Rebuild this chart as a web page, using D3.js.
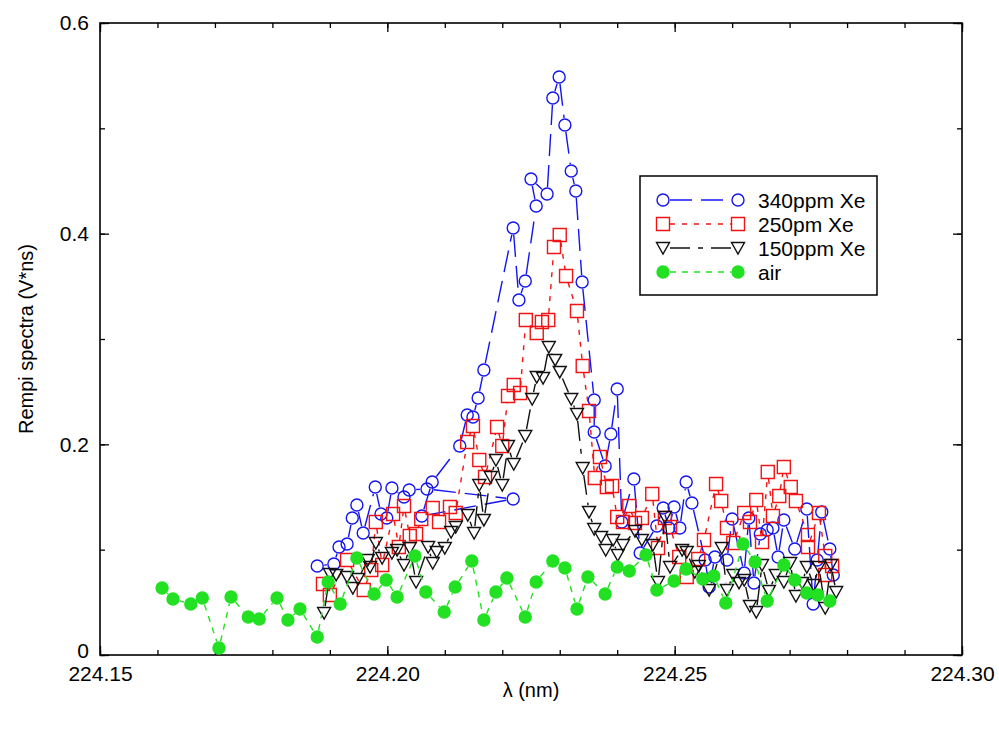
<!DOCTYPE html>
<html>
<head>
<meta charset="utf-8">
<script src="https://cdn.jsdelivr.net/npm/d3@7"></script>
<style>
  body { margin: 0; background: #fff; }
  text { font-family: "Liberation Sans", Arial, sans-serif; }
</style>
</head>
<body>
<svg id="chart" width="999" height="729"></svg>
<script>
// [lambda (nm), Rempi signal (V*ns)] in the order the points were joined
const xe340 = [
  [224.1878,0.0845],[224.1907,0.0864],[224.1916,0.1025],[224.1930,0.1054],[224.1939,0.1301],
  [224.1947,0.1424],[224.1958,0.1158],[224.1979,0.1595],[224.1989,0.1339],[224.1999,0.1301],
  [224.2008,0.1585],[224.2029,0.1500],[224.2038,0.1567],[224.2069,0.1576],[224.2219,0.1481],
  [224.2060,0.1320],[224.2078,0.1642],[224.2126,0.1984],[224.2139,0.2279],[224.2149,0.2260],
  [224.2158,0.2440],[224.2168,0.2706],[224.2219,0.4054],[224.2229,0.3370],[224.2240,0.3551],
  [224.2259,0.4263],[224.2250,0.4519],[224.2278,0.4377],[224.2288,0.5288],[224.2299,0.5488],
  [224.2309,0.5032],[224.2320,0.4595],[224.2328,0.4405],[224.2339,0.3541],[224.2360,0.2421],
  [224.2360,0.2117],[224.2379,0.1794],[224.2389,0.2098],[224.2400,0.2525],[224.2408,0.1263],
  [224.2429,0.1671],[224.2440,0.0968],[224.2469,0.1225],[224.2480,0.1396],[224.2490,0.1206],
  [224.2499,0.1405],[224.2509,0.1206],[224.2520,0.1642],[224.2530,0.1443],[224.2553,0.0902],
  [224.2560,0.0646],[224.2570,0.0930],[224.2591,0.0902],[224.2600,0.1291],[224.2621,0.0779],
  [224.2629,0.1301],[224.2638,0.0684],[224.2649,0.1149],[224.2661,0.1187],[224.2671,0.1206],
  [224.2680,0.0930],[224.2690,0.1282],[224.2709,0.1006],[224.2730,0.1386],[224.2741,0.0484],
  [224.2748,0.0902],[224.2756,0.1358],[224.2770,0.1006],[224.2776,0.0760]
];
const xe250 = [
  [224.1888,0.0674],[224.1900,0.0570],[224.1930,0.0902],[224.1959,0.0617],[224.1972,0.0807],
  [224.1980,0.1263],[224.1991,0.0854],[224.2010,0.1339],[224.2020,0.1025],[224.2029,0.1415],
  [224.2039,0.1130],[224.2050,0.1149],[224.2059,0.1291],[224.2079,0.1396],[224.2090,0.1263],
  [224.2109,0.1405],[224.2119,0.1348],[224.2139,0.2022],[224.2149,0.2174],[224.2160,0.1851],
  [224.2170,0.1690],[224.2191,0.2165],[224.2200,0.1984],[224.2210,0.2459],[224.2220,0.2563],
  [224.2231,0.2487],[224.2241,0.3180],[224.2260,0.3057],[224.2269,0.3161],[224.2280,0.3180],
  [224.2290,0.3874],[224.2300,0.3987],[224.2311,0.3598],[224.2330,0.3266],[224.2340,0.2744],
  [224.2351,0.2317],[224.2361,0.1680],[224.2370,0.1880],[224.2382,0.1595],[224.2391,0.1604],
  [224.2400,0.1310],[224.2410,0.1263],[224.2421,0.1415],[224.2431,0.1253],[224.2443,0.1301],
  [224.2461,0.1529],[224.2471,0.1016],[224.2483,0.1301],[224.2492,0.1215],[224.2508,0.0930],
  [224.2521,0.0741],[224.2541,0.0911],[224.2551,0.1092],[224.2572,0.1623],[224.2581,0.1462],
  [224.2591,0.1206],[224.2602,0.1063],[224.2621,0.1348],[224.2631,0.1263],[224.2642,0.1472],
  [224.2652,0.1073],[224.2662,0.1737],[224.2671,0.1320],[224.2682,0.1510],[224.2690,0.1785],
  [224.2702,0.1595],[224.2711,0.1462],[224.2732,0.1139],[224.2732,0.1025],[224.2751,0.1348],
  [224.2762,0.0940],[224.2762,0.0760],[224.2774,0.0845]
];
const xe150 = [
  [224.1890,0.0399],[224.1900,0.0769],[224.1911,0.0760],[224.1930,0.0741],[224.1940,0.0636],
  [224.1949,0.0722],[224.1966,0.0902],[224.1970,0.0835],[224.1980,0.1063],[224.1991,0.0921],
  [224.2008,0.0968],[224.2017,0.0997],[224.2029,0.0854],[224.2039,0.1016],[224.2050,0.0693],
  [224.2071,0.1025],[224.2079,0.0873],[224.2086,0.0978],[224.2100,0.1016],[224.2111,0.1168],
  [224.2119,0.1215],[224.2140,0.1329],[224.2151,0.1158],[224.2160,0.1614],[224.2168,0.1282],
  [224.2180,0.1690],[224.2189,0.1851],[224.2200,0.1614],[224.2210,0.1984],[224.2220,0.1813],
  [224.2240,0.2079],[224.2252,0.2430],[224.2260,0.2639],[224.2271,0.2630],[224.2281,0.2924],
  [224.2292,0.2801],[224.2300,0.2687],[224.2320,0.2430],[224.2330,0.2288],[224.2340,0.1775],
  [224.2351,0.1358],[224.2360,0.1196],[224.2372,0.1120],[224.2380,0.0997],[224.2393,0.1092],
  [224.2401,0.0949],[224.2410,0.1044],[224.2431,0.1177],[224.2443,0.1092],[224.2462,0.1044],
  [224.2471,0.0693],[224.2483,0.1310],[224.2492,0.0835],[224.2513,0.0997],[224.2521,0.0978],
  [224.2535,0.0788],[224.2542,0.0845],[224.2560,0.0617],[224.2582,0.1016],[224.2591,0.0617],
  [224.2602,0.0760],[224.2612,0.0684],[224.2621,0.0712],[224.2631,0.0465],[224.2642,0.0408],
  [224.2652,0.0854],[224.2664,0.0608],[224.2676,0.0760],[224.2690,0.0693],[224.2701,0.0873],
  [224.2711,0.0560],[224.2722,0.0684],[224.2730,0.0835],[224.2742,0.0665],[224.2751,0.0835],
  [224.2762,0.0446],[224.2772,0.0854],[224.2781,0.0598]
];
const air = [
  [224.1608,0.0636],[224.1627,0.0532],[224.1658,0.0484],[224.1678,0.0541],[224.1707,0.0066],
  [224.1728,0.0551],[224.1758,0.0361],[224.1777,0.0342],[224.1808,0.0541],[224.1827,0.0332],
  [224.1848,0.0437],[224.1878,0.0171],[224.1897,0.0693],[224.1918,0.0484],[224.1947,0.0921],
  [224.1977,0.0579],[224.1998,0.0712],[224.2017,0.0551],[224.2048,0.0940],[224.2067,0.0598],
  [224.2099,0.0408],[224.2118,0.0646],[224.2147,0.0892],[224.2168,0.0332],[224.2189,0.0598],
  [224.2208,0.0731],[224.2240,0.0361],[224.2259,0.0693],[224.2288,0.0892],[224.2309,0.0826],
  [224.2330,0.0437],[224.2349,0.0741],[224.2379,0.0579],[224.2400,0.0835],[224.2421,0.0797],
  [224.2450,0.0949],[224.2469,0.0617],[224.2499,0.0703],[224.2520,0.0816],[224.2549,0.0722],
  [224.2568,0.0750],[224.2589,0.0494],[224.2619,0.1054],[224.2640,0.0883],[224.2661,0.0513],
  [224.2690,0.0854],[224.2709,0.0712],[224.2730,0.0589],[224.2749,0.0570],[224.2770,0.0513]
];

const xMajor = [224.15, 224.20, 224.25, 224.30];
const yMajor = [0, 0.2, 0.4, 0.6];
const legendNames = ["340ppm Xe", "250pm Xe", "150ppm Xe", "air"];

const svg = d3.select("#chart");
const x = d3.scaleLinear().domain([224.15, 224.30]).range([100, 962]);
const y = d3.scaleLinear().domain([0, 0.6]).range([655, 23]);

const series = [
  {data: xe340, color: "#1414f0", dash: "22,9", shape: "circle", fill: "none"},
  {data: xe250, color: "#f01414", dash: "5,7", shape: "square", fill: "none"},
  {data: xe150, color: "#111", dash: "20,8,5,8", shape: "triangle", fill: "none"},
  {data: air, color: "#22e022", dash: "6,6", shape: "circle", fill: "#22e022"}
];

function markerPath(shape) {
  if (shape === "square") return "M-6.5,-6.5H6.5V6.5H-6.5Z";
  if (shape === "triangle") return "M-6.5,-5.5L6.5,-5.5L0,6Z";
  return "M6,0A6,6 0 1,1 -6,0A6,6 0 1,1 6,0Z";
}

// line pieces between points, stopped short of the symbols
function drawLinks(g, pts, s, gap) {
  for (let i = 0; i < pts.length - 1; i++) {
    let [x1, y1] = pts[i], [x2, y2] = pts[i + 1];
    let dx = x2 - x1, dy = y2 - y1;
    let len = Math.sqrt(dx * dx + dy * dy);
    if (len <= 2 * gap) continue;
    let ux = dx / len, uy = dy / len;
    g.append("line")
      .attr("x1", x1 + ux * gap).attr("y1", y1 + uy * gap)
      .attr("x2", x2 - ux * gap).attr("y2", y2 - uy * gap)
      .attr("stroke", s.color).attr("stroke-width", 1.4)
      .attr("stroke-dasharray", s.dash).attr("fill", "none");
  }
}

function drawMarks(g, pts, s) {
  g.selectAll(null).data(pts).join("path")
    .attr("transform", d => `translate(${d[0]},${d[1]})`)
    .attr("d", markerPath(s.shape))
    .attr("fill", s.fill)
    .attr("stroke", s.color)
    .attr("stroke-width", 1.4);
}

// axes, ticks pointing inward
const xMinor = d3.range(0, 16).map(i => 224.15 + i * 0.01);
const yMinor = d3.range(0, 7).map(i => i * 0.1);

svg.append("g").attr("transform", "translate(0,655)")
  .call(d3.axisBottom(x).tickValues(xMinor).tickSize(-5).tickFormat(""));
svg.append("g").attr("transform", "translate(0,655)")
  .call(d3.axisBottom(x).tickValues(xMajor).tickSize(-9).tickPadding(11).tickFormat(d3.format(".2f")));
svg.append("g").attr("transform", "translate(0,23)")
  .call(d3.axisTop(x).tickValues(xMinor).tickSize(-5).tickFormat(""));
svg.append("g").attr("transform", "translate(0,23)")
  .call(d3.axisTop(x).tickValues(xMajor).tickSize(-9).tickFormat(""));
svg.append("g").attr("transform", "translate(100,0)")
  .call(d3.axisLeft(y).tickValues(yMinor).tickSize(-5).tickFormat(""));
const yAxis = svg.append("g").attr("transform", "translate(100,0)")
  .call(d3.axisLeft(y).tickValues(yMajor).tickSize(-9).tickPadding(11).tickFormat(d => d === 0 ? "0" : d3.format(".1f")(d)));
svg.append("g").attr("transform", "translate(962,0)")
  .call(d3.axisRight(y).tickValues(yMinor).tickSize(-5).tickFormat(""));
svg.append("g").attr("transform", "translate(962,0)")
  .call(d3.axisRight(y).tickValues(yMajor).tickSize(-9).tickFormat(""));

svg.selectAll(".domain").remove();
svg.selectAll(".tick line").attr("stroke", "#000").attr("stroke-width", 1.3);
svg.selectAll(".tick text").attr("font-size", 21).attr("fill", "#000")
  .style("font-family", "'Liberation Sans', Arial, sans-serif");
// the "0" sits just above the 224.15 label
yAxis.selectAll(".tick text").filter(d => d === 0).attr("dy", "0.12em");

svg.append("rect")
  .attr("x", 100).attr("y", 23).attr("width", 862).attr("height", 632)
  .attr("fill", "none").attr("stroke", "#000").attr("stroke-width", 1.6);

// data
const plot = svg.append("g");
for (let s of series) {
  let pts = s.data.map(d => [x(d[0]), y(d[1])]);
  let g = plot.append("g");
  drawLinks(g, pts, s, 7);
  drawMarks(g, pts, s);
}

// legend
const legend = svg.append("g");
legend.append("rect")
  .attr("x", 640).attr("y", 176).attr("width", 237).attr("height", 119)
  .attr("fill", "#fff").attr("stroke", "#000").attr("stroke-width", 1.5);
series.forEach((s, i) => {
  let ly = 200 + i * 24;
  let pts = [[663, ly], [738, ly]];
  let g = legend.append("g");
  drawLinks(g, pts, s, 7);
  drawMarks(g, pts, s);
  legend.append("text")
    .attr("x", 758).attr("y", ly).attr("dy", "0.36em")
    .attr("font-size", 21).text(legendNames[i]);
});

// axis titles
svg.append("text")
  .attr("x", 531).attr("y", 697)
  .attr("text-anchor", "middle").attr("font-size", 20)
  .text("λ (nm)");
svg.append("text")
  .attr("transform", "translate(33,339) rotate(-90)")
  .attr("text-anchor", "middle").attr("font-size", 20)
  .text("Rempi spectra (V*ns)");
</script>
</body>
</html>
